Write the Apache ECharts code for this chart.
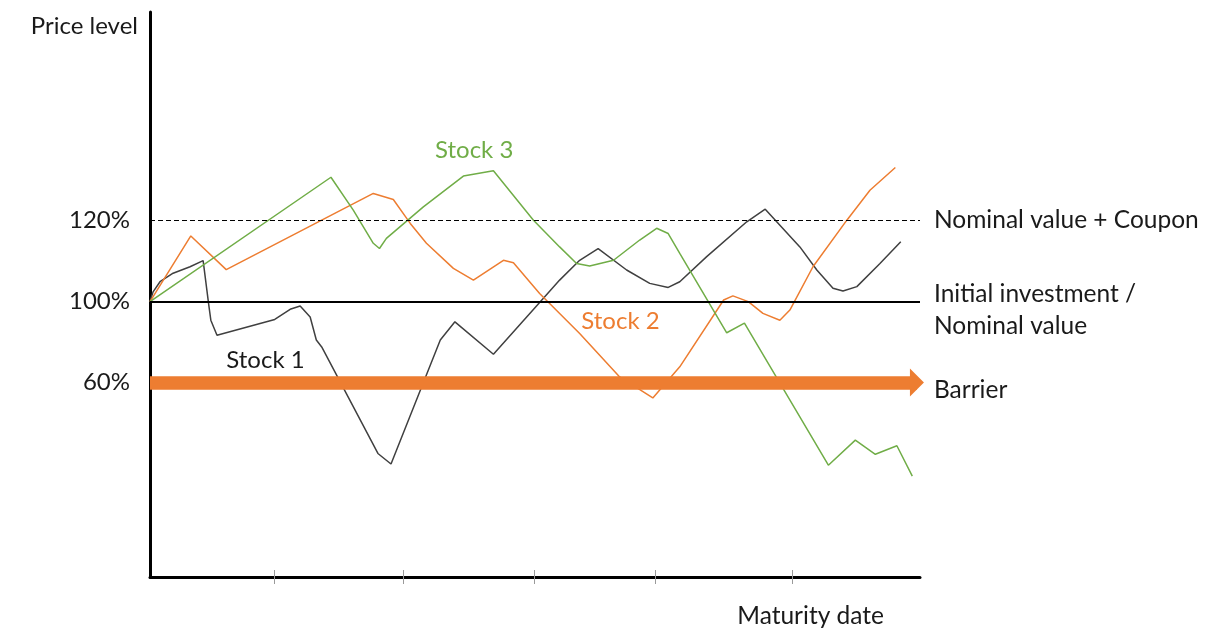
<!DOCTYPE html>
<html><head><meta charset="utf-8">
<script src="https://cdn.jsdelivr.net/npm/echarts@6/dist/echarts.min.js"></script>
<style>html,body{margin:0;padding:0;background:#fff}#c{width:1208px;height:630px}</style>
</head><body><div id="c"></div>
<script>
// ---- data (schematic units: x = time 0..100, y = price level units) ----
const stock1 = [[0,100],[0.4,102.4],[1.3,104.9],[3.0,107.0],[5.2,108.6],[6.9,110.1],[7.6,99.6],[7.9,95.4],[8.7,91.7],[16.2,95.6],[18.2,98.1],[19.5,98.9],[20.8,96.2],[21.6,90.5],[22.3,88.8],[29.6,62.5],[31.3,59.9],[37.7,90.5],[39.6,95.0],[44.6,87.0],[50.6,99.8],[53.2,105.3],[55.8,110.2],[58.2,113.1],[61.9,107.8],[64.9,104.5],[67.3,103.5],[68.8,104.9],[72.3,111.1],[77.5,119.7],[79.9,122.8],[84.4,113.5],[86.6,107.8],[88.7,103.3],[90.0,102.6],[91.8,103.7],[94.8,109.4],[97.5,114.8]];
const stock2 = [[0,100],[5.3,116.2],[9.9,107.9],[29.0,126.7],[31.6,125.2],[33.8,119.3],[35.9,114.4],[39.4,108.2],[42.0,105.3],[45.9,110.2],[47.2,109.6],[50.6,102.0],[55.8,92.1],[61.0,81.4],[65.3,76.2],[68.8,83.9],[74.5,100.4],[75.7,101.4],[77.7,100.0],[79.6,97.1],[81.8,95.4],[83.1,97.9],[86.1,108.6],[90.5,120.1],[93.5,127.5],[96.8,133.1]];
const stock3 = [[0,100],[23.5,130.7],[26.4,122.6],[29.0,114.4],[29.8,113.1],[30.7,115.6],[35.5,123.4],[40.7,131.0],[44.6,132.3],[49.8,120.1],[53.2,113.5],[55.4,109.4],[57.1,108.8],[60.2,110.2],[63.6,115.2],[65.8,118.1],[67.3,116.8],[68.8,111.9],[74.9,92.3],[77.2,94.7],[88.1,59.6],[91.6,65.8],[94.2,62.3],[97.0,64.4],[99.0,56.9]];
const seriesNames = ['Stock 1','Stock 2','Stock 3'];
const yTickValues = [80, 100, 120];
const yTickLabels = ['60%', '100%', '120%'];
const xTickValues = [16.2, 32.9, 49.9, 65.6, 83.4];
const refLevels = [100, 120];
const refLabels = ['Initial investment /', 'Nominal value', 'Nominal value + Coupon'];
const barrierLevel = 80;
const barrierEndX = 99.6;
const barrierLabel = 'Barrier';
const axisNames = ['Maturity date', 'Price level'];

// ---- styling ----
const FONT = 'Lato, "Open Sans", sans-serif';
const TXT = '#1a1a1a';
const ORANGE = '#ED7D31';
const GREEN = '#70AD47';
const DARK = '#404040';
const RFS = 24.5;

function stockSeries(name, data, color, labelCoord, labelColor) {
  return {
    type: 'line', name: name, data: data, symbol: 'none', showSymbol: false, z: 3,
    silent: true, lineStyle: { color: color, width: 1.5 },
    emphasis: { disabled: true },
    markPoint: {
      silent: true, symbol: 'rect', symbolSize: 1, itemStyle: { color: 'rgba(0,0,0,0)' },
      label: { show: true, position: 'inside', formatter: name, fontFamily: FONT, fontSize: 24, color: labelColor },
      data: [{ coord: labelCoord }]
    }
  };
}

const chart = echarts.init(document.getElementById('c'), null, { renderer: 'canvas' });
chart.setOption({
  animation: false,
  backgroundColor: '#fff',
  grid: { left: 150, right: 288, top: 12, bottom: 53 },
  xAxis: [{
    type: 'value', min: 0, max: 100,
    axisLine: { show: true, onZero: false, lineStyle: { color: '#000', width: 3 } },
    axisTick: { show: true, customValues: xTickValues, length: 7, lineStyle: { color: '#9a9a9a', width: 1 } },
    axisLabel: { show: false }, splitLine: { show: false },
    name: axisNames[0], nameLocation: 'end', nameGap: -36,
    nameTextStyle: { fontFamily: FONT, fontSize: RFS, color: TXT, align: 'right', verticalAlign: 'top', padding: [27, 0, 0, 0] }
  }, {
    type: 'value', min: 0, max: 100, position: 'bottom',
    axisLine: { show: false },
    axisTick: { show: true, inside: true, customValues: xTickValues, length: 7, lineStyle: { color: '#9a9a9a', width: 1 } },
    axisLabel: { show: false }, splitLine: { show: false }
  }],
  yAxis: {
    type: 'value', min: 32, max: 171.5,
    axisLine: { show: true, onZero: false, lineStyle: { color: '#000', width: 3 } },
    axisTick: { show: false }, splitLine: { show: false },
    axisLabel: {
      customValues: yTickValues,
      formatter: function (v) { const i = yTickValues.indexOf(v); return i >= 0 ? yTickLabels[i] : ''; },
      fontFamily: FONT, fontSize: 24, color: TXT, margin: 20
    },
    name: axisNames[1], nameLocation: 'end', nameGap: -14,
    nameTextStyle: { fontFamily: FONT, fontSize: 24, color: TXT, align: 'right', verticalAlign: 'middle', padding: [0, 12, 0, 0] }
  },
  series: [
    {
      type: 'line', name: 'levels', data: [], z: 1, silent: true,
      markLine: {
        silent: true, symbol: 'none', animation: false,
        label: { show: true, position: 'end', distance: 14, fontFamily: FONT, fontSize: RFS, color: TXT },
        emphasis: { disabled: true },
        data: [
          { yAxis: refLevels[0], lineStyle: { type: 'solid', width: 2, color: '#000' },
            label: {
              formatter: '{gap| }\n{t|' + refLabels[0] + '}\n{t|' + refLabels[1] + '}',
              rich: {
                gap: { lineHeight: 17, fontSize: 10 },
                t: { lineHeight: 31.5, fontFamily: FONT, fontSize: RFS, color: TXT }
              }
            } },
          { yAxis: refLevels[1], lineStyle: { type: [5, 3], width: 1, color: '#000' },
            label: { formatter: refLabels[2] } }
        ]
      }
    },
    {
      type: 'line', name: 'barrier', data: [], z: 1, silent: true,
      markLine: {
        silent: true, symbol: ['none', 'triangle'], symbolSize: [28, 14], animation: false,
        lineStyle: { type: 'solid', width: 13.5, color: ORANGE },
        label: {
          show: true, position: 'end', distance: 17, fontFamily: FONT, fontSize: RFS, color: TXT,
          formatter: '{gap| }\n{t|' + barrierLabel + '}',
          rich: {
            gap: { lineHeight: 15, fontSize: 10 },
            t: { lineHeight: 30, fontFamily: FONT, fontSize: RFS, color: TXT }
          }
        },
        emphasis: { disabled: true },
        data: [[{ coord: [0, barrierLevel] }, { coord: [barrierEndX, barrierLevel] }]]
      }
    },
    stockSeries(seriesNames[0], stock1, DARK, [15.0, 85.6], TXT),
    stockSeries(seriesNames[1], stock2, ORANGE, [61.1, 95.2], ORANGE),
    stockSeries(seriesNames[2], stock3, GREEN, [42.1, 137.3], GREEN)
  ]
});
</script>
</body></html>
